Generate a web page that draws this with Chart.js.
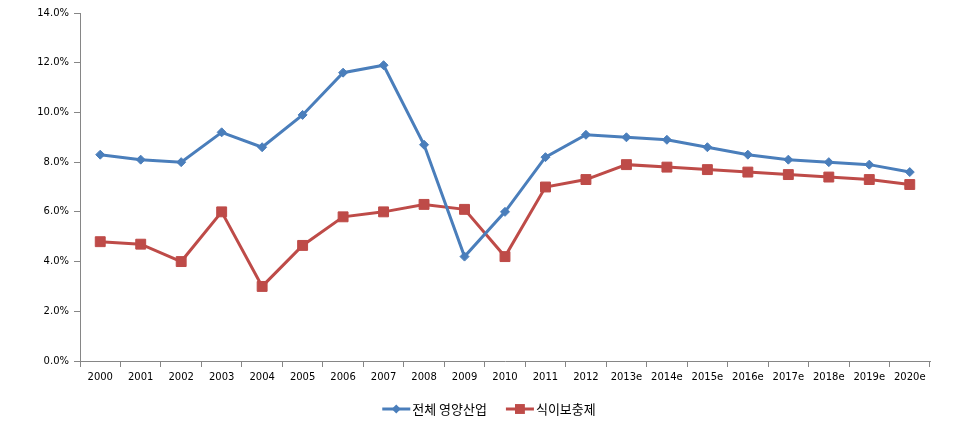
<!DOCTYPE html>
<html>
<head>
<meta charset="utf-8">
<script src="https://cdn.jsdelivr.net/npm/chart.js@4.4.1/dist/chart.umd.min.js"></script>
<style>
html,body{margin:0;padding:0;background:#fff;}
#wrap{width:976px;height:429px;position:relative;}
</style>
</head>
<body>
<div id="wrap"><canvas id="c" width="976" height="429"></canvas></div>
<script>
const categories = ['2000','2001','2002','2003','2004','2005','2006','2007','2008','2009','2010','2011','2012','2013e','2014e','2015e','2016e','2017e','2018e','2019e','2020e'];
const seriesNames = ['전체 영양산업', '식이보충제'];
const totalIndustry = [8.3,8.1,8.0,9.2,8.6,9.9,11.6,11.9,8.7,4.2,6.0,8.2,9.1,9.0,8.9,8.6,8.3,8.1,8.0,7.9,7.6];
const supplements = [4.8,4.7,4.0,6.0,3.0,4.65,5.8,6.0,6.3,6.1,4.2,7.0,7.3,7.9,7.8,7.7,7.6,7.5,7.4,7.3,7.1];
const yTicks = [0,2,4,6,8,10,12,14];

const BLUE = '#4A7EBB';
const RED = '#BE4B48';
const AXIS = '#868686';
const LEGEND_FONT = '13px "Noto Sans CJK KR", "DejaVu Sans", sans-serif';

// Custom bottom legend: line-with-marker sample + label, centred under the canvas
const lineLegend = {
  id: 'lineLegend',
  afterDraw(chart) {
    const ctx = chart.ctx;
    const dsets = chart.data.datasets;
    const sampleW = 28, textGap = 2, itemGap = 19;
    ctx.save();
    ctx.font = LEGEND_FONT;
    const widths = dsets.map(ds => sampleW + textGap + ctx.measureText(ds.label).width);
    const total = widths.reduce((a, b) => a + b, 0) + itemGap * (dsets.length - 1);
    let x = chart.width / 2 - total / 2 + 1;
    const cy = 409;
    dsets.forEach((ds, i) => {
      ctx.strokeStyle = ds.borderColor;
      ctx.lineWidth = 3;
      ctx.beginPath();
      ctx.moveTo(x, cy); ctx.lineTo(x + sampleW, cy);
      ctx.stroke();
      const mx = x + sampleW / 2;
      ctx.fillStyle = ds.pointBackgroundColor;
      ctx.beginPath();
      if (ds.pointStyle === 'rect') {
        const s = ds.pointRadius * Math.SQRT1_2;
        ctx.rect(mx - s, cy - s, 2 * s, 2 * s);
      } else {
        const r = ds.pointRadius;
        ctx.moveTo(mx, cy - r); ctx.lineTo(mx + r, cy); ctx.lineTo(mx, cy + r); ctx.lineTo(mx - r, cy); ctx.closePath();
      }
      ctx.fill();
      ctx.fillStyle = '#000';
      ctx.textBaseline = 'middle';
      ctx.textAlign = 'left';
      ctx.fillText(ds.label, x + sampleW + textGap, cy);
      x += widths[i] + itemGap;
    });
    ctx.restore();
  }
};

new Chart(document.getElementById('c'), {
  type: 'line',
  data: {
    labels: categories,
    datasets: [
      { label: seriesNames[0], data: totalIndustry, borderColor: BLUE, backgroundColor: BLUE,
        pointBackgroundColor: BLUE, pointBorderColor: BLUE, borderWidth: 3, pointStyle: 'rectRot',
        pointRadius: 4.5, pointBorderWidth: 1, tension: 0 },
      { label: seriesNames[1], data: supplements, borderColor: RED, backgroundColor: RED,
        pointBackgroundColor: RED, pointBorderColor: RED, borderWidth: 3, pointStyle: 'rect',
        pointRadius: 7, pointBorderWidth: 1, tension: 0 }
    ]
  },
  options: {
    responsive: false,
    animation: false,
    devicePixelRatio: 1,
    layout: { padding: { left: 0, right: 46, top: 13, bottom: 38 } },
    plugins: {
      tooltip: { enabled: false },
      legend: { display: false }
    },
    scales: {
      x: {
        offset: true,
        grid: { offset: true, drawOnChartArea: false, drawTicks: true, tickLength: 6, color: AXIS },
        border: { color: AXIS, width: 1 },
        ticks: { color: '#000', font: { family: '"DejaVu Sans", sans-serif', size: 10 }, maxRotation: 0, autoSkip: false, padding: 4 },
        afterFit(scale) { scale.height = 30; }
      },
      y: {
        min: 0, max: 14,
        afterBuildTicks(scale) { scale.ticks = yTicks.map(v => ({ value: v })); },
        grid: { drawOnChartArea: false, drawTicks: true, tickLength: 6, color: AXIS },
        border: { color: AXIS, width: 1 },
        ticks: { color: '#000', font: { family: '"DejaVu Sans", sans-serif', size: 10 }, padding: 5,
          callback: v => Number(v).toFixed(1) + '%' },
        afterFit(scale) { scale.width = 80; }
      }
    }
  },
  plugins: [lineLegend]
});
</script>
</body>
</html>
